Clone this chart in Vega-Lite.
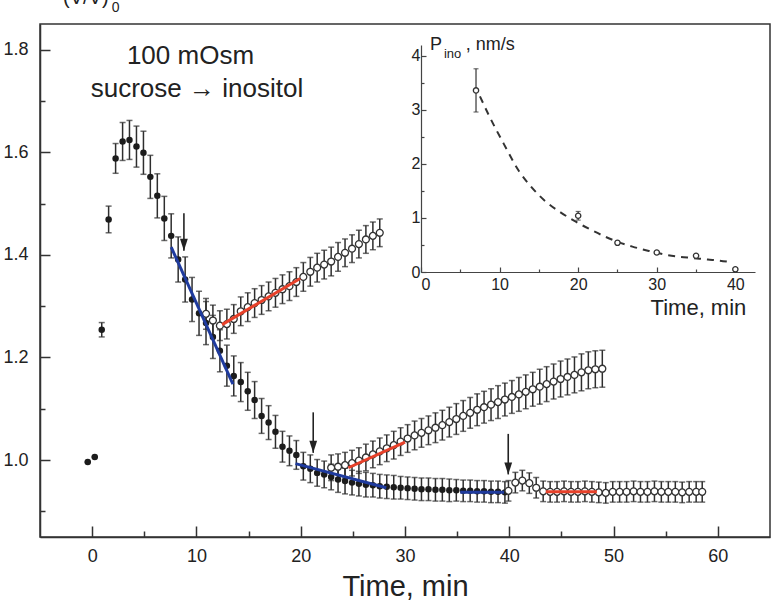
{
  "$schema": "https://vega.github.io/schema/vega-lite/v6.json",
  "width": 730,
  "height": 513,
  "autosize": {"type": "none"},
  "padding": {"left": 40, "top": 24, "right": 2, "bottom": 66},
  "background": "white",
  "config": {
    "view": {"stroke": "#333", "strokeWidth": 1.5},
    "font": "Liberation Sans",
    "axis": {"grid": false, "domainColor": "#333", "domainWidth": 1.5, "tickColor": "#333", "tickWidth": 1.5, "labelColor": "#222", "labelFont": "Liberation Sans", "titleFont": "Liberation Sans", "titleColor": "#222", "titleFontWeight": "normal"}
  },
  "datasets": {
    "main": [
      {"t": -0.42, "v": 0.996, "e": 0, "s": "f"}, {"t": 0.25, "v": 1.006, "e": 0, "s": "f"}, {"t": 0.92, "v": 1.254, "e": 0.014, "s": "f"}, {"t": 1.58, "v": 1.469, "e": 0.026, "s": "f"}, {"t": 2.25, "v": 1.588, "e": 0.029, "s": "f"}, {"t": 2.92, "v": 1.621, "e": 0.037, "s": "f"}, {"t": 3.58, "v": 1.624, "e": 0.038, "s": "f"}, {"t": 4.25, "v": 1.611, "e": 0.04, "s": "f"}, {"t": 4.92, "v": 1.599, "e": 0.042, "s": "f"}, {"t": 5.58, "v": 1.552, "e": 0.042, "s": "f"}, {"t": 6.25, "v": 1.515, "e": 0.043, "s": "f"}, {"t": 6.92, "v": 1.471, "e": 0.043, "s": "f"}, {"t": 7.58, "v": 1.437, "e": 0.043, "s": "f"}, {"t": 8.25, "v": 1.391, "e": 0.044, "s": "f"}, {"t": 8.92, "v": 1.352, "e": 0.044, "s": "f"}, {"t": 9.58, "v": 1.313, "e": 0.043, "s": "f"}, {"t": 10.25, "v": 1.286, "e": 0.043, "s": "f"}, {"t": 10.92, "v": 1.267, "e": 0.042, "s": "f"}, {"t": 11.58, "v": 1.24, "e": 0.042, "s": "f"}, {"t": 12.25, "v": 1.213, "e": 0.041, "s": "f"}, {"t": 12.92, "v": 1.184, "e": 0.04, "s": "f"}, {"t": 13.58, "v": 1.164, "e": 0.039, "s": "f"}, {"t": 14.25, "v": 1.152, "e": 0.038, "s": "f"}, {"t": 14.92, "v": 1.134, "e": 0.037, "s": "f"}, {"t": 15.58, "v": 1.117, "e": 0.036, "s": "f"}, {"t": 16.25, "v": 1.086, "e": 0.034, "s": "f"}, {"t": 16.92, "v": 1.073, "e": 0.033, "s": "f"}, {"t": 17.58, "v": 1.055, "e": 0.032, "s": "f"}, {"t": 18.25, "v": 1.026, "e": 0.03, "s": "f"}, {"t": 18.92, "v": 1.018, "e": 0.029, "s": "f"}, {"t": 19.58, "v": 1.01, "e": 0.028, "s": "f"}, {"t": 20.25, "v": 0.988, "e": 0.027, "s": "f"}, {"t": 20.92, "v": 0.983, "e": 0.027, "s": "f"}, {"t": 21.58, "v": 0.975, "e": 0.026, "s": "f"}, {"t": 22.25, "v": 0.972, "e": 0.026, "s": "f"}, {"t": 22.92, "v": 0.967, "e": 0.025, "s": "f"}, {"t": 23.58, "v": 0.962, "e": 0.025, "s": "f"}, {"t": 24.25, "v": 0.959, "e": 0.025, "s": "f"}, {"t": 24.92, "v": 0.956, "e": 0.024, "s": "f"}, {"t": 25.58, "v": 0.954, "e": 0.024, "s": "f"}, {"t": 26.25, "v": 0.952, "e": 0.024, "s": "f"}, {"t": 26.92, "v": 0.951, "e": 0.023, "s": "f"}, {"t": 27.58, "v": 0.949, "e": 0.023, "s": "f"}, {"t": 28.25, "v": 0.948, "e": 0.023, "s": "f"}, {"t": 28.92, "v": 0.947, "e": 0.023, "s": "f"}, {"t": 29.58, "v": 0.946, "e": 0.022, "s": "f"}, {"t": 30.25, "v": 0.945, "e": 0.022, "s": "f"}, {"t": 30.92, "v": 0.944, "e": 0.022, "s": "f"}, {"t": 31.58, "v": 0.943, "e": 0.022, "s": "f"}, {"t": 32.25, "v": 0.943, "e": 0.022, "s": "f"}, {"t": 32.92, "v": 0.942, "e": 0.022, "s": "f"}, {"t": 33.58, "v": 0.942, "e": 0.022, "s": "f"}, {"t": 34.25, "v": 0.941, "e": 0.022, "s": "f"}, {"t": 34.92, "v": 0.941, "e": 0.021, "s": "f"}, {"t": 35.58, "v": 0.94, "e": 0.021, "s": "f"}, {"t": 36.25, "v": 0.94, "e": 0.021, "s": "f"}, {"t": 36.92, "v": 0.939, "e": 0.021, "s": "f"}, {"t": 37.58, "v": 0.939, "e": 0.021, "s": "f"}, {"t": 38.25, "v": 0.938, "e": 0.021, "s": "f"}, {"t": 38.92, "v": 0.938, "e": 0.021, "s": "f"}, {"t": 39.58, "v": 0.937, "e": 0.021, "s": "f"},
      {"t": 10.92, "v": 1.285, "e": 0.03, "s": "o1"}, {"t": 11.58, "v": 1.272, "e": 0.03, "s": "o1"}, {"t": 12.25, "v": 1.262, "e": 0.029, "s": "o1"}, {"t": 12.92, "v": 1.265, "e": 0.029, "s": "o1"}, {"t": 13.58, "v": 1.275, "e": 0.028, "s": "o1"}, {"t": 14.25, "v": 1.29, "e": 0.028, "s": "o1"}, {"t": 14.92, "v": 1.298, "e": 0.028, "s": "o1"}, {"t": 15.58, "v": 1.306, "e": 0.028, "s": "o1"}, {"t": 16.25, "v": 1.312, "e": 0.028, "s": "o1"}, {"t": 16.92, "v": 1.319, "e": 0.028, "s": "o1"}, {"t": 17.58, "v": 1.326, "e": 0.028, "s": "o1"}, {"t": 18.25, "v": 1.333, "e": 0.028, "s": "o1"}, {"t": 18.92, "v": 1.339, "e": 0.028, "s": "o1"}, {"t": 19.58, "v": 1.347, "e": 0.028, "s": "o1"}, {"t": 20.25, "v": 1.357, "e": 0.028, "s": "o1"}, {"t": 20.92, "v": 1.367, "e": 0.028, "s": "o1"}, {"t": 21.58, "v": 1.375, "e": 0.028, "s": "o1"}, {"t": 22.25, "v": 1.381, "e": 0.028, "s": "o1"}, {"t": 22.92, "v": 1.387, "e": 0.028, "s": "o1"}, {"t": 23.58, "v": 1.396, "e": 0.028, "s": "o1"}, {"t": 24.25, "v": 1.404, "e": 0.027, "s": "o1"}, {"t": 24.92, "v": 1.412, "e": 0.027, "s": "o1"}, {"t": 25.58, "v": 1.421, "e": 0.027, "s": "o1"}, {"t": 26.25, "v": 1.43, "e": 0.027, "s": "o1"}, {"t": 26.92, "v": 1.437, "e": 0.027, "s": "o1"}, {"t": 27.58, "v": 1.443, "e": 0.027, "s": "o1"},
      {"t": 22.92, "v": 0.985, "e": 0.025, "s": "o2"}, {"t": 23.58, "v": 0.987, "e": 0.025, "s": "o2"}, {"t": 24.25, "v": 0.99, "e": 0.025, "s": "o2"}, {"t": 24.92, "v": 0.994, "e": 0.025, "s": "o2"}, {"t": 25.58, "v": 0.999, "e": 0.025, "s": "o2"}, {"t": 26.25, "v": 1.005, "e": 0.026, "s": "o2"}, {"t": 26.92, "v": 1.011, "e": 0.026, "s": "o2"}, {"t": 27.58, "v": 1.017, "e": 0.026, "s": "o2"}, {"t": 28.25, "v": 1.023, "e": 0.026, "s": "o2"}, {"t": 28.92, "v": 1.029, "e": 0.027, "s": "o2"}, {"t": 29.58, "v": 1.036, "e": 0.027, "s": "o2"}, {"t": 30.25, "v": 1.042, "e": 0.027, "s": "o2"}, {"t": 30.92, "v": 1.048, "e": 0.028, "s": "o2"}, {"t": 31.58, "v": 1.053, "e": 0.028, "s": "o2"}, {"t": 32.25, "v": 1.058, "e": 0.028, "s": "o2"}, {"t": 32.92, "v": 1.063, "e": 0.029, "s": "o2"}, {"t": 33.58, "v": 1.068, "e": 0.029, "s": "o2"}, {"t": 34.25, "v": 1.074, "e": 0.029, "s": "o2"}, {"t": 34.92, "v": 1.08, "e": 0.03, "s": "o2"}, {"t": 35.58, "v": 1.086, "e": 0.03, "s": "o2"}, {"t": 36.25, "v": 1.092, "e": 0.03, "s": "o2"}, {"t": 36.92, "v": 1.098, "e": 0.031, "s": "o2"}, {"t": 37.58, "v": 1.103, "e": 0.031, "s": "o2"}, {"t": 38.25, "v": 1.108, "e": 0.031, "s": "o2"}, {"t": 38.92, "v": 1.113, "e": 0.032, "s": "o2"}, {"t": 39.58, "v": 1.118, "e": 0.032, "s": "o2"}, {"t": 40.25, "v": 1.123, "e": 0.032, "s": "o2"}, {"t": 40.92, "v": 1.128, "e": 0.033, "s": "o2"}, {"t": 41.58, "v": 1.133, "e": 0.033, "s": "o2"}, {"t": 42.25, "v": 1.138, "e": 0.033, "s": "o2"}, {"t": 42.92, "v": 1.143, "e": 0.034, "s": "o2"}, {"t": 43.58, "v": 1.148, "e": 0.034, "s": "o2"}, {"t": 44.25, "v": 1.153, "e": 0.034, "s": "o2"}, {"t": 44.92, "v": 1.158, "e": 0.035, "s": "o2"}, {"t": 45.58, "v": 1.162, "e": 0.035, "s": "o2"}, {"t": 46.25, "v": 1.166, "e": 0.035, "s": "o2"}, {"t": 46.92, "v": 1.171, "e": 0.036, "s": "o2"}, {"t": 47.58, "v": 1.175, "e": 0.036, "s": "o2"}, {"t": 48.25, "v": 1.177, "e": 0.036, "s": "o2"}, {"t": 48.92, "v": 1.178, "e": 0.036, "s": "o2"},
      {"t": 39.92, "v": 0.94, "e": 0.02, "s": "o3"}, {"t": 40.58, "v": 0.956, "e": 0.02, "s": "o3"}, {"t": 41.25, "v": 0.96, "e": 0.02, "s": "o3"}, {"t": 41.92, "v": 0.955, "e": 0.02, "s": "o3"}, {"t": 42.58, "v": 0.946, "e": 0.02, "s": "o3"}, {"t": 43.25, "v": 0.939, "e": 0.02, "s": "o3"}, {"t": 43.92, "v": 0.938, "e": 0.02, "s": "o3"}, {"t": 44.58, "v": 0.938, "e": 0.02, "s": "o3"}, {"t": 45.25, "v": 0.939, "e": 0.02, "s": "o3"}, {"t": 45.92, "v": 0.938, "e": 0.02, "s": "o3"}, {"t": 46.58, "v": 0.938, "e": 0.02, "s": "o3"}, {"t": 47.25, "v": 0.939, "e": 0.02, "s": "o3"}, {"t": 47.92, "v": 0.938, "e": 0.02, "s": "o3"}, {"t": 48.58, "v": 0.937, "e": 0.02, "s": "o3"}, {"t": 49.25, "v": 0.936, "e": 0.02, "s": "o3"}, {"t": 49.92, "v": 0.938, "e": 0.02, "s": "o3"}, {"t": 50.58, "v": 0.938, "e": 0.02, "s": "o3"}, {"t": 51.25, "v": 0.938, "e": 0.02, "s": "o3"}, {"t": 51.92, "v": 0.939, "e": 0.02, "s": "o3"}, {"t": 52.58, "v": 0.938, "e": 0.02, "s": "o3"}, {"t": 53.25, "v": 0.938, "e": 0.02, "s": "o3"}, {"t": 53.92, "v": 0.939, "e": 0.02, "s": "o3"}, {"t": 54.58, "v": 0.938, "e": 0.02, "s": "o3"}, {"t": 55.25, "v": 0.938, "e": 0.02, "s": "o3"}, {"t": 55.92, "v": 0.938, "e": 0.02, "s": "o3"}, {"t": 56.58, "v": 0.937, "e": 0.02, "s": "o3"}, {"t": 57.25, "v": 0.938, "e": 0.02, "s": "o3"}, {"t": 57.92, "v": 0.938, "e": 0.02, "s": "o3"}, {"t": 58.5, "v": 0.938, "e": 0.02, "s": "o3"}
    ],
    "fits": [
      {"t": 7.58, "v": 1.415, "t2": 13.5, "v2": 1.148, "k": "blue"},
      {"t": 19.5, "v": 0.993, "t2": 28.2, "v2": 0.946, "k": "blue"},
      {"t": 35.3, "v": 0.937, "t2": 39.5, "v2": 0.937, "k": "blue"},
      {"t": 12.46, "v": 1.264, "t2": 19.95, "v2": 1.354, "k": "red"},
      {"t": 24.57, "v": 0.985, "t2": 30.0, "v2": 1.035, "k": "red"},
      {"t": 43.5, "v": 0.938, "t2": 48.4, "v2": 0.938, "k": "red"}
    ],
    "arrows": [
      {"t": 8.8, "v": 1.408, "v2": 1.481},
      {"t": 21.2, "v": 1.014, "v2": 1.093},
      {"t": 39.9, "v": 0.972, "v2": 1.051}
    ],
    "inset": [
      {"t": 7, "v": 3.36, "e": 0.4},
      {"t": 20, "v": 1.04, "e": 0.08},
      {"t": 25, "v": 0.54, "e": 0.03},
      {"t": 30, "v": 0.36, "e": 0.02},
      {"t": 35, "v": 0.3, "e": 0.02},
      {"t": 40, "v": 0.05, "e": 0.02}
    ],
    "curve": [
      {"t": 7.5, "v": 3.25}, {"t": 8.7, "v": 2.88}, {"t": 10.5, "v": 2.38}, {"t": 12.5, "v": 1.86}, {"t": 14, "v": 1.58}, {"t": 15.9, "v": 1.3}, {"t": 17.8, "v": 1.1}, {"t": 19.7, "v": 0.93}, {"t": 21.5, "v": 0.79}, {"t": 23.5, "v": 0.65}, {"t": 25, "v": 0.56}, {"t": 26.9, "v": 0.47}, {"t": 29, "v": 0.39}, {"t": 31.1, "v": 0.32}, {"t": 33, "v": 0.28}, {"t": 34.5, "v": 0.26}, {"t": 36.5, "v": 0.23}, {"t": 38, "v": 0.21}, {"t": 39.5, "v": 0.18}
    ]
  },
  "layer": [
    {
      "encoding": {
        "x": {"field": "t", "type": "quantitative", "scale": {"domain": [-5, 65], "nice": false, "zero": false},
          "axis": {"title": "Time, min", "titleFontSize": 29, "titlePadding": 7, "values": [0, 5, 10, 15, 20, 25, 30, 35, 40, 45, 50, 55, 60], "labelExpr": "datum.value % 10 == 0 ? datum.label : ''", "tickSize": {"condition": {"test": "datum.value % 10 == 0", "value": -11}, "value": -6}, "labelFontSize": 18, "labelPadding": 21}},
        "y": {"field": "v", "type": "quantitative", "scale": {"domain": [0.85, 1.85], "nice": false, "zero": false},
          "axis": {"title": null, "values": [0.9, 1.0, 1.1, 1.2, 1.3, 1.4, 1.5, 1.6, 1.7, 1.8], "labelExpr": "round(datum.value*10) % 2 == 0 ? format(datum.value, '.1f') : ''", "tickSize": {"condition": {"test": "round(datum.value*10) % 2 == 0", "value": -10}, "value": -5}, "labelFontSize": 18, "labelPadding": 22}}
      },
      "layer": [
        {"data": {"name": "main"}, "mark": {"type": "errorbar", "ticks": {"size": 6, "thickness": 1.5, "color": "#2e2e2e"}, "rule": {"strokeWidth": 1.5, "color": "#2e2e2e"}}, "encoding": {"yError": {"field": "e"}}},
        {"data": {"name": "main"}, "transform": [{"filter": "datum.s == 'f'"}], "mark": {"type": "circle", "color": "#1c1c1c", "size": 42, "opacity": 1}},
        {"data": {"name": "main"}, "transform": [{"filter": "datum.s != 'f'"}], "mark": {"type": "circle", "fill": "white", "stroke": "#333", "strokeWidth": 1.3, "size": 48, "opacity": 1, "fillOpacity": 1}},
        {"data": {"name": "fits"}, "mark": {"type": "rule", "strokeWidth": 3}, "encoding": {"x2": {"field": "t2"}, "y2": {"field": "v2"}, "color": {"field": "k", "type": "nominal", "scale": {"domain": ["blue", "red"], "range": ["#1f3b9e", "#e8412a"]}, "legend": null}}},
        {"data": {"name": "arrows"}, "mark": {"type": "rule", "strokeWidth": 1.6, "color": "#222"}, "encoding": {"y2": {"field": "v2"}}},
        {"data": {"name": "arrows"}, "mark": {"type": "point", "shape": "M -1.3 -4 L 0 0 L 1.3 -4 Z", "filled": true, "color": "#222", "size": 36, "opacity": 1}},
        {"data": {"values": [{"t": 9.43, "v": 1.7875, "label": "100 mOsm"}, {"t": 10.05, "v": 1.723, "label": "sucrose → inositol"}]}, "mark": {"type": "text", "fontSize": 26, "color": "#222", "align": "center", "baseline": "middle"}, "encoding": {"text": {"field": "label"}}},
        {"data": {"values": [{"t": 32.39, "v": 1.799, "label": "P"}, {"t": 35.83, "v": 1.799, "label": ", nm/s"}]}, "mark": {"type": "text", "fontSize": 18, "color": "#222", "align": "left", "baseline": "alphabetic"}, "encoding": {"text": {"field": "label"}}},
        {"data": {"values": [{"t": 33.73, "v": 1.7836, "label": "ino"}]}, "mark": {"type": "text", "fontSize": 13, "color": "#222", "align": "left", "baseline": "alphabetic"}, "encoding": {"text": {"field": "label"}}},
        {"data": {"values": [{"t": 62.73, "v": 1.296, "label": "Time, min"}]}, "mark": {"type": "text", "fontSize": 22, "color": "#222", "align": "right", "baseline": "middle"}, "encoding": {"text": {"field": "label"}}},
        {"data": {"values": [{"t": 1.58, "v": 1.889, "label": "(V/V)"}]}, "mark": {"type": "text", "fontSize": 20, "color": "#222", "align": "right", "baseline": "alphabetic"}, "encoding": {"text": {"field": "label"}}},
        {"data": {"values": [{"t": 2.25, "v": 1.881, "label": "0"}]}, "mark": {"type": "text", "fontSize": 14, "color": "#222", "align": "center", "baseline": "middle"}, "encoding": {"text": {"field": "label"}}}
      ]
    },
    {
      "encoding": {
        "x": {"field": "t", "type": "quantitative", "scale": {"domain": [0, 42.5], "range": [381, 715], "nice": false, "zero": false},
          "axis": {"orient": "bottom", "offset": -265, "title": null, "values": [0, 5, 10, 15, 20, 25, 30, 35, 40], "labelExpr": "datum.value % 10 == 0 ? format(datum.value, 'd') : ''", "tickSize": {"condition": {"test": "datum.value % 10 == 0", "value": -5}, "value": -3}, "labelFontSize": 16, "labelPadding": 9, "domainWidth": 1.2, "tickWidth": 1.2, "domainColor": "#444", "tickColor": "#444"}},
        "y": {"field": "v", "type": "quantitative", "scale": {"domain": [0, 4.2], "range": [248, 21], "nice": false, "zero": false},
          "axis": {"orient": "left", "offset": -381, "title": null, "values": [0, 0.5, 1, 1.5, 2, 2.5, 3, 3.5, 4], "labelExpr": "datum.value % 1 == 0 ? format(datum.value, 'd') : ''", "tickSize": {"condition": {"test": "datum.value % 1 == 0", "value": -5}, "value": -3}, "labelFontSize": 16, "labelPadding": 6, "domainWidth": 1.2, "tickWidth": 1.2, "domainColor": "#444", "tickColor": "#444"}}
      },
      "layer": [
        {"data": {"name": "inset"}, "mark": {"type": "errorbar", "ticks": {"size": 5, "thickness": 1.2, "color": "#333"}, "rule": {"strokeWidth": 1.2, "color": "#333"}}, "encoding": {"yError": {"field": "e"}}},
        {"data": {"name": "curve"}, "mark": {"type": "line", "strokeDash": [7, 6], "strokeWidth": 2, "color": "#333", "interpolate": "monotone"}},
        {"data": {"name": "inset"}, "mark": {"type": "circle", "fill": "white", "stroke": "#333", "strokeWidth": 1.3, "size": 28, "opacity": 1, "fillOpacity": 1}}
      ]
    }
  ],
  "resolve": {"scale": {"x": "independent", "y": "independent"}, "axis": {"x": "independent", "y": "independent"}}
}
